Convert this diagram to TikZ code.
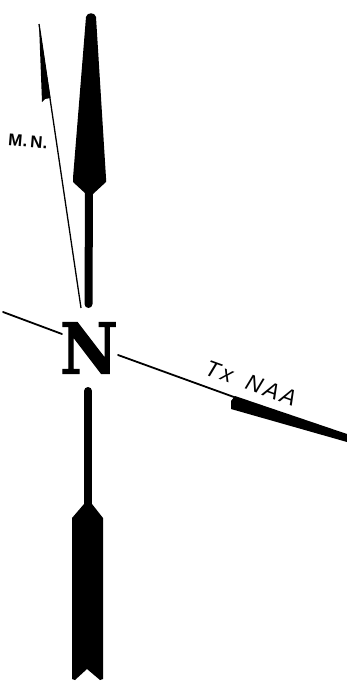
\documentclass[tikz,border=0pt]{standalone}
\usepackage{fontspec}
\setmainfont{Liberation Sans}
\newfontfamily\bigN{DejaVu Serif Bold}[FakeBold=1.6]
\tikzset{
  blackfill/.style={fill=black,draw=none},
  thinline/.style={draw=black,line width=1.8pt,line cap=round},
  shaft/.style={draw=black,line width=8pt,line cap=round}
}
\begin{document}
\begin{tikzpicture}[x=1pt,y=-1pt]
\useasboundingbox (0,0) rectangle (347,699);
% north arrow
\coordinate (ns1) at (89,190); \coordinate (ns2) at (88.5,304);
\draw[shaft] (ns1) -- (ns2);
\fill[blackfill] (86,17) .. controls (87,12) and (95,12) .. (96,17)
  -- (106,178) -- (106,182) -- (93,194) -- (86,194) -- (73,182) -- (73,178) -- cycle;
% south arrow
\coordinate (ss1) at (88,391); \coordinate (ss2) at (88,510);
\draw[shaft] (ss1) -- (ss2);
\fill[blackfill] (84,504) -- (92,504) -- (103,518) -- (103,679) -- (100,680) -- (87,669)
  -- (75,680) -- (72,679) -- (72,518) -- cycle;
% magnetic north
\coordinate (mn1) at (39,24); \coordinate (mn2) at (81,308);
\draw[draw=black,line width=1.3pt] (mn1) -- (mn2);
\fill[blackfill] (39,24) -- (50.5,98) -- (45,99) -- (42,102) -- cycle;
% transmitter bearing
\coordinate (tl1) at (3,312); \coordinate (tl2) at (62,334);
\coordinate (tr1) at (118,355); \coordinate (tr2) at (347,438);
\draw[thinline] (tl1) -- (tl2);
\draw[thinline] (tr1) -- (tr2);
\fill[blackfill] (235,396) -- (231,401) -- (231,409) -- (347,442) -- (347,434) -- cycle;
% labels
\node[inner sep=0pt,anchor=center,xscale=0.9] (n) at (89,348)
  {\fontsize{70}{70}\selectfont\bigN N};
\node[inner sep=0pt,rotate=-5] (mnlabel) at (28,141)
  {\fontsize{17}{17}\selectfont\bfseries\addfontfeature{LetterSpace=2}M.\,N.};
\node[inner sep=0pt,rotate=-20] (txlabel) at (251,383)
  {\fontsize{22.5}{22.5}\selectfont\itshape\addfontfeature{LetterSpace=13}Tx\hspace{15pt}NAA};
\end{tikzpicture}
\end{document}
